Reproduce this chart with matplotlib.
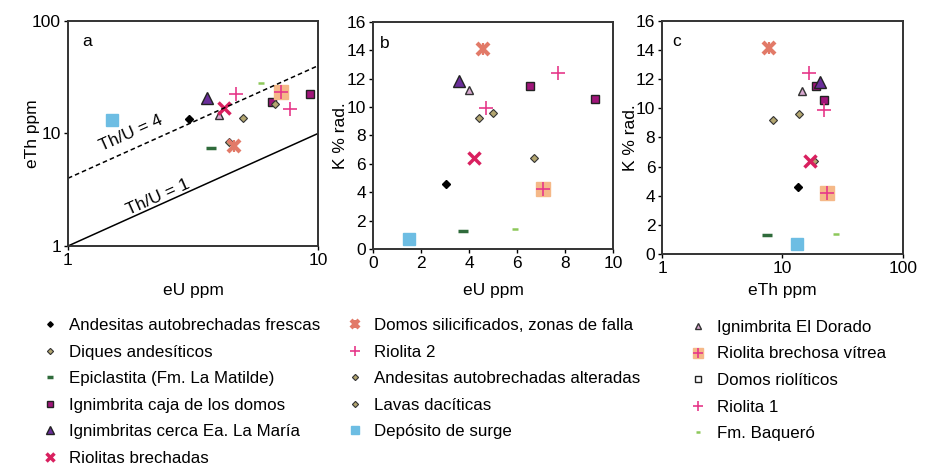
import matplotlib.pyplot as plt

plt.rcParams['font.family'] = ['Liberation Sans', 'DejaVu Sans']

# eU (ppm), eTh (ppm), K (% rad.) per unit
and_frescas_u = [3.04]
and_frescas_th = [13.4]
and_frescas_k = [4.6]

diques_u = [4.4]
diques_th = [8.4]
diques_k = [9.2]

epiclastita_u = [3.73]
epiclastita_th = [7.5]
epiclastita_k = [1.3]

caja_u = [6.55, 9.25]
caja_th = [19.0, 22.3]
caja_k = [11.5, 10.55]

maria_u = [3.6]
maria_th = [20.5]
maria_k = [11.8]

brechadas_u = [4.2]
brechadas_th = [16.8]
brechadas_k = [6.4]

silicif_u = [4.6]
silicif_th = [7.75]
silicif_k = [14.1]

riolita2_u = [4.7]
riolita2_th = [22.3]
riolita2_k = [9.9]

and_alteradas_u = [5.0]
and_alteradas_th = [13.6]
and_alteradas_k = [9.6]

dacitas_u = [6.7]
dacitas_th = [18.2]
dacitas_k = [6.4]

surge_u = [1.5]
surge_th = [13.1]
surge_k = [0.7]

dorado_u = [4.0]
dorado_th = [14.5]
dorado_k = [11.2]

vitrea_u = [7.1]
vitrea_th = [23.3]
vitrea_k = [4.2]

domos_u = []
domos_th = []
domos_k = []

riolita1_u = [7.7]
riolita1_th = [16.5]
riolita1_k = [12.4]

baquero_u = [5.9]
baquero_th = [28.0]
baquero_k = [1.4]

ratio_u = [1, 10]

TAN = '#b3a670'
PINK = '#e6388a'
SALMON = '#e27a68'

styles = {
    'frescas': dict(marker='D', ms=4, color='black', mec='black', ls='none'),
    'diques': dict(marker='D', ms=4.5, color=TAN, mec='#333333', mew=0.8, ls='none'),
    'epi': dict(marker='_', ms=7, color='#2f6b3b', mew=2.5, ls='none'),
    'caja': dict(marker='s', ms=5.5, color='#a0157a', mec='#222222', mew=1.0, ls='none'),
    'maria': dict(marker='^', ms=9, color='#6a2e9a', mec='#222222', mew=1.0, ls='none'),
    'brech': dict(marker='x', ms=9, color='#d9205f', mew=2.5, ls='none'),
    'silic': dict(marker='x', ms=8, color=SALMON, mew=3, ls='none'),
    'silic_bar': dict(marker='|', ms=8, color=SALMON, mew=1.6, ls='none'),
    'r2': dict(marker='+', ms=10, color=PINK, mew=1.2, ls='none'),
    'alter': dict(marker='D', ms=4.5, color=TAN, mec='#333333', mew=0.8, ls='none'),
    'dacit': dict(marker='D', ms=4.5, color=TAN, mec='#333333', mew=0.8, ls='none'),
    'surge': dict(marker='s', ms=9, color='#6dbde3', mec='#6dbde3', ls='none'),
    'dorado': dict(marker='^', ms=6, color='#d8a8d0', mec='#333333', mew=1.0, ls='none'),
    'vitrea_bg': dict(marker='s', ms=10, color='#f5b888', mec='#f5b888', ls='none'),
    'vitrea': dict(marker='+', ms=10, color=PINK, mew=1.2, ls='none'),
    'domos': dict(marker='s', ms=5.5, color='white', mec='#222222', mew=1.0, ls='none'),
    'r1': dict(marker='+', ms=10, color=PINK, mew=1.2, ls='none'),
    'baq': dict(marker='_', ms=4, color='#8dc85a', mew=1.8, ls='none'),
}

series = [
    ('frescas', and_frescas_u, and_frescas_th, and_frescas_k),
    ('diques', diques_u, diques_th, diques_k),
    ('epi', epiclastita_u, epiclastita_th, epiclastita_k),
    ('caja', caja_u, caja_th, caja_k),
    ('maria', maria_u, maria_th, maria_k),
    ('silic', silicif_u, silicif_th, silicif_k),
    ('silic_bar', silicif_u, silicif_th, silicif_k),
    ('r2', riolita2_u, riolita2_th, riolita2_k),
    ('alter', and_alteradas_u, and_alteradas_th, and_alteradas_k),
    ('dacit', dacitas_u, dacitas_th, dacitas_k),
    ('surge', surge_u, surge_th, surge_k),
    ('dorado', dorado_u, dorado_th, dorado_k),
    ('vitrea_bg', vitrea_u, vitrea_th, vitrea_k),
    ('vitrea', vitrea_u, vitrea_th, vitrea_k),
    ('domos', domos_u, domos_th, domos_k),
    ('r1', riolita1_u, riolita1_th, riolita1_k),
    ('baq', baquero_u, baquero_th, baquero_k),
    ('brech', brechadas_u, brechadas_th, brechadas_k),
]

fig = plt.figure(figsize=(9.35, 4.66), dpi=100)
ax_a = fig.add_axes([0.0727, 0.4721, 0.2674, 0.4829])
ax_b = fig.add_axes([0.3990, 0.4657, 0.2567, 0.4877])
ax_c = fig.add_axes([0.7083, 0.4549, 0.2571, 0.5006])

FS = 12.5
handles = {}
for key, u, th, k in series:
    st = styles[key]
    ax_a.plot(u, th, **st)
    ax_b.plot(u, k, **st)
    h, = ax_c.plot(th, k, **st)
    handles[key] = h

# reference ratio lines
ax_a.plot(ratio_u, [4 * v for v in ratio_u], ls=(0, (3, 2)), color='black', lw=1.1)
ax_a.plot(ratio_u, ratio_u, ls='-', color='black', lw=1.1)
ax_a.text(1.79, 10.1, 'Th/U = 4', rotation=24, rotation_mode='anchor',
          ha='center', va='center', fontsize=FS)
ax_a.text(2.29, 2.73, 'Th/U = 1', rotation=24, rotation_mode='anchor',
          ha='center', va='center', fontsize=FS)

ax_a.set_xscale('log')
ax_a.set_yscale('log')
ax_a.set_xlim(1, 10)
ax_a.set_ylim(1, 100)
ax_a.set_xticks([1, 10], ['1', '10'])
ax_a.set_yticks([1, 10, 100], ['1', '10', '100'])
ax_a.minorticks_off()

ax_b.set_xlim(0, 10)
ax_b.set_ylim(0, 16)
ax_b.set_xticks(range(0, 11, 2))
ax_b.set_yticks(range(0, 17, 2))

ax_c.set_xscale('log')
ax_c.set_xlim(1, 100)
ax_c.set_ylim(0, 16)
ax_c.set_xticks([1, 10, 100], ['1', '10', '100'])
ax_c.minorticks_off()
ax_c.set_yticks(range(0, 17, 2))

for ax, letter, lx, ly in [(ax_a, 'a', 0.056, 0.907), (ax_b, 'b', 0.03, 0.906),
                           (ax_c, 'c', 0.04, 0.913)]:
    ax.text(lx, ly, letter, transform=ax.transAxes, ha='left', va='center', fontsize=FS)
    for sp in ax.spines.values():
        sp.set_linewidth(1.4)
        sp.set_color('#333333')
    ax.tick_params(direction='out', length=3, width=1, labelsize=FS, pad=2)

ax_a.set_xlabel('eU ppm', fontsize=FS)
ax_a.set_ylabel('eTh ppm', fontsize=FS)
ax_b.set_xlabel('eU ppm', fontsize=FS)
ax_b.set_ylabel('K % rad.', fontsize=FS)
ax_c.set_xlabel('eTh ppm', fontsize=FS)
ax_c.set_ylabel('K % rad.', fontsize=FS)
ax_a.xaxis.set_label_coords(0.5, -0.164)
ax_a.yaxis.set_label_coords(-0.112, 0.5)
ax_b.xaxis.set_label_coords(0.5, -0.15)
ax_b.yaxis.set_label_coords(-0.105, 0.5)
ax_c.xaxis.set_label_coords(0.5, -0.124)
ax_c.yaxis.set_label_coords(-0.103, 0.5)

cols = [
    ([('frescas', 'Andesitas autobrechadas frescas'),
      ('diques', 'Diques andesíticos'),
      ('epi', 'Epiclastita (Fm. La Matilde)'),
      ('caja', 'Ignimbrita caja de los domos'),
      ('maria', 'Ignimbritas cerca Ea. La María'),
      ('brech', 'Riolitas brechadas')], 0.0428, 0.3176),
    ([('silic', 'Domos silicificados, zonas de falla'),
      ('r2', 'Riolita 2'),
      ('alter', 'Andesitas autobrechadas alteradas'),
      ('dacit', 'Lavas dacíticas'),
      ('surge', 'Depósito de surge')], 0.369, 0.3174),
    ([('dorado', 'Ignimbrita El Dorado'),
      ('vitrea', 'Riolita brechosa vítrea'),
      ('domos', 'Domos riolíticos'),
      ('r1', 'Riolita 1'),
      ('baq', 'Fm. Baqueró')], 0.736, 0.3134),
]

for entries, x0, y0 in cols:
    hs = []
    for key, _ in entries:
        if key == 'vitrea':
            hs.append((handles['vitrea_bg'], handles['vitrea']))
        elif key == 'silic':
            hs.append((handles['silic'], handles['silic_bar']))
        else:
            hs.append(handles[key])
    fig.legend(hs, [lab for _, lab in entries], loc='upper left',
               bbox_to_anchor=(x0, y0), frameon=False, fontsize=12.2,
               handlelength=1.2, handletextpad=0.5, labelspacing=0.68,
               borderpad=0, borderaxespad=0, numpoints=1, markerscale=0.7)

fig.savefig('out.png', dpi=100)
